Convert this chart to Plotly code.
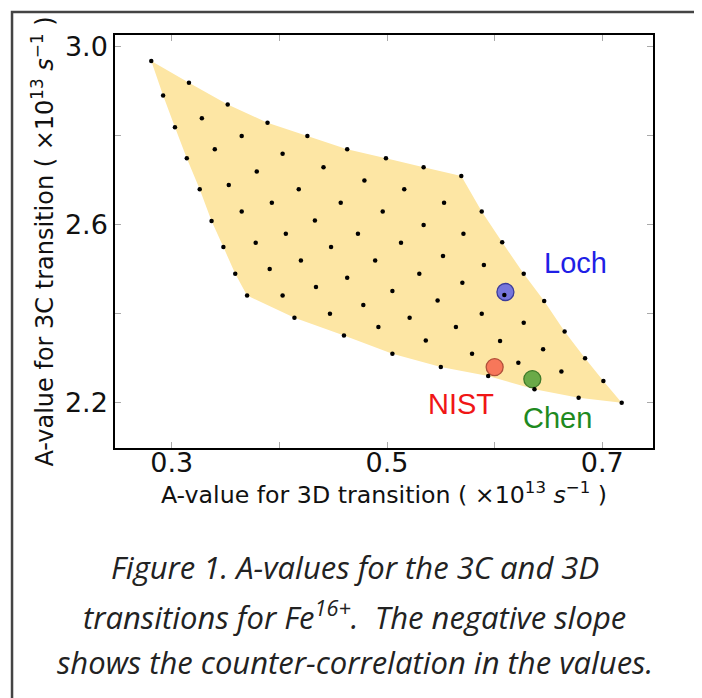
import plotly.graph_objects as go

# Grid of computed A-values: rows (j) x columns (i); 3D transition (x) and 3C transition (y), units 1e13 s^-1
a3d_grid = [
    [0.281, 0.316, 0.352, 0.389, 0.426, 0.463, 0.499, 0.534, 0.569],
    [0.292, 0.328, 0.365, 0.403, 0.441, 0.479, 0.516, 0.553, 0.588],
    [0.303, 0.340, 0.379, 0.418, 0.457, 0.496, 0.534, 0.571, 0.607],
    [0.314, 0.353, 0.393, 0.433, 0.473, 0.513, 0.552, 0.590, 0.627],
    [0.326, 0.365, 0.406, 0.448, 0.489, 0.530, 0.570, 0.609, 0.646],
    [0.337, 0.378, 0.420, 0.463, 0.505, 0.547, 0.588, 0.627, 0.665],
    [0.348, 0.391, 0.434, 0.478, 0.521, 0.564, 0.605, 0.645, 0.684],
    [0.359, 0.403, 0.447, 0.492, 0.536, 0.579, 0.622, 0.662, 0.701],
    [0.370, 0.414, 0.460, 0.505, 0.550, 0.594, 0.637, 0.678, 0.718],
]
a3c_grid = [
    [2.968, 2.919, 2.870, 2.829, 2.799, 2.769, 2.749, 2.729, 2.709],
    [2.890, 2.839, 2.799, 2.759, 2.729, 2.699, 2.679, 2.649, 2.629],
    [2.819, 2.769, 2.719, 2.679, 2.649, 2.629, 2.599, 2.579, 2.560],
    [2.749, 2.689, 2.649, 2.609, 2.579, 2.559, 2.529, 2.509, 2.489],
    [2.679, 2.629, 2.579, 2.549, 2.519, 2.489, 2.469, 2.441, 2.428],
    [2.608, 2.559, 2.519, 2.480, 2.450, 2.429, 2.399, 2.379, 2.359],
    [2.549, 2.500, 2.459, 2.419, 2.390, 2.369, 2.338, 2.319, 2.299],
    [2.489, 2.440, 2.399, 2.369, 2.339, 2.309, 2.289, 2.269, 2.248],
    [2.440, 2.390, 2.350, 2.309, 2.279, 2.259, 2.229, 2.210, 2.199],
]

ref_names = ["Loch", "NIST", "Chen"]
ref_3d = [0.610, 0.600, 0.635]
ref_3c = [2.448, 2.279, 2.252]
ref_fill = ["#7676dc", "#f7775a", "#6aaa48"]
ref_edge = ["#3c3c9a", "#b0503a", "#3f7a2a"]
ref_text = ["#1f1fe6", "#f01616", "#1f8a1f"]
label_3d = [0.675, 0.569, 0.658]
label_3c = [2.513, 2.196, 2.164]

x_ticks = [0.3, 0.4, 0.5, 0.6, 0.7]
x_ticktext = ["0.3", "", "0.5", "", "0.7"]
y_ticks = [2.2, 2.4, 2.6, 2.8, 3.0]
y_ticktext = ["2.2", "", "2.6", "", "3.0"]

caption_lines = [
    "Figure 1. A-values for the 3C and 3D",
    "transitions for Fe<sup>16+</sup>.  The negative slope",
    "shows the counter-correlation in the values.",
]

n = len(a3d_grid)
# boundary of the grid (for the shaded region)
bx, by = [], []
for i in range(n):
    bx.append(a3d_grid[0][i]); by.append(a3c_grid[0][i])
for j in range(1, n):
    bx.append(a3d_grid[j][n - 1]); by.append(a3c_grid[j][n - 1])
for i in range(n - 2, -1, -1):
    bx.append(a3d_grid[n - 1][i]); by.append(a3c_grid[n - 1][i])
for j in range(n - 2, 0, -1):
    bx.append(a3d_grid[j][0]); by.append(a3c_grid[j][0])

fig = go.Figure()
fig.add_trace(go.Scatter(x=bx, y=by, fill="toself", fillcolor="#fde6a4",
                         mode="none", hoverinfo="skip", showlegend=False))
fig.add_trace(go.Scatter(x=ref_3d, y=ref_3c, mode="markers",
                         marker=dict(size=17, color=ref_fill,
                                     line=dict(color=ref_edge, width=1.3)),
                         showlegend=False))
fig.add_trace(go.Scatter(x=[v for row in a3d_grid for v in row],
                         y=[v for row in a3c_grid for v in row],
                         mode="markers", marker=dict(size=4.5, color="black"),
                         showlegend=False))

for name, lx, ly, c in zip(ref_names, label_3d, label_3c, ref_text):
    fig.add_annotation(x=lx, y=ly, text=name, showarrow=False,
                       font=dict(family="Liberation Sans, Arial", size=29, color=c))

cap_y = [-0.287, -0.405, -0.517]
for t, yy in zip(caption_lines, cap_y):
    fig.add_annotation(xref="paper", yref="paper", x=0.446, y=yy, text="<i>" + t + "</i>",
                       showarrow=False, xanchor="center", yanchor="middle",
                       font=dict(family="Open Sans", size=31, color="#222"))

# outer frame around figure + caption
fig.add_shape(type="rect", xref="paper", yref="paper", x0=-0.1914, x1=1.0818,
              y0=-0.66, y1=1.0557, line=dict(color="#444", width=2.5), layer="below")

axis_common = dict(showline=True, linecolor="black", linewidth=1.5, mirror="ticks",
                   ticks="inside", ticklen=6, tickcolor="#aaa", tickwidth=1,
                   showgrid=False, zeroline=False,
                   tickfont=dict(family="DejaVu Sans", size=27, color="#111"))

fig.update_xaxes(range=[0.2473, 0.7471], tickvals=x_ticks, ticktext=x_ticktext,
                 ticklabelstandoff=-10,
                 title=dict(text="A-value for 3D transition ( ×10<sup>13</sup> <i>s</i><sup>−1</sup> )",
                            font=dict(family="DejaVu Sans", size=23.7, color="#111"), standoff=2),
                 **axis_common)
fig.update_yaxes(range=[2.097, 3.0263], tickvals=y_ticks, ticktext=y_ticktext,
                 title=dict(text="A-value for 3C transition ( ×10<sup>13</sup> <i>s</i><sup>−1</sup> )",
                            font=dict(family="DejaVu Sans", size=24, color="#111"), standoff=4),
                 **axis_common)

# the page adds an 8px body margin, so the figure is 8px smaller and margins shifted
fig.update_layout(width=694, height=690, margin=dict(l=107, r=49, t=27, b=250),
                  plot_bgcolor="white", paper_bgcolor="white")

fig.write_html("out.html")
